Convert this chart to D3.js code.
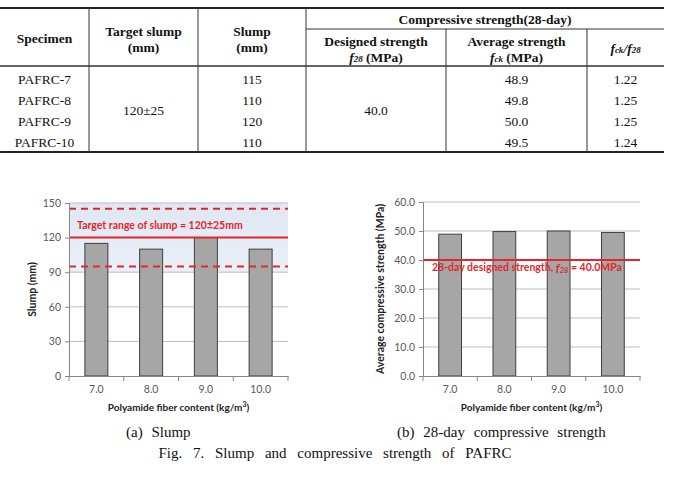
<!DOCTYPE html>
<html><head><meta charset="utf-8">
<script src="https://cdn.jsdelivr.net/npm/d3@7"></script>
<style>
html,body{margin:0;padding:0;background:#fff;}
svg{display:block;}
.tbl{font-family:"Liberation Serif","DejaVu Serif",serif;font-size:13.5px;fill:#111;}
.tblh{font-weight:bold;}
.ch{font-family:Lato,"Open Sans",sans-serif;}
.tick text{font-family:Lato,"Open Sans",sans-serif;font-size:10.5px;fill:#595959;}
.cap{font-family:"Liberation Serif","DejaVu Serif",serif;font-size:15px;fill:#111;word-spacing:5px;}
</style></head>
<body>
<svg id="c" width="674" height="477"></svg>
<script>
// ---------- data ----------
const specimens = ["PAFRC-7", "PAFRC-8", "PAFRC-9", "PAFRC-10"];
const fiberContent = ["7.0", "8.0", "9.0", "10.0"];
const slumpValues = [115, 110, 120, 110];
const strengthValues = [48.9, 49.8, 50.0, 49.5];
const strengthRatios = ["1.22", "1.25", "1.25", "1.24"];
const targetSlump = 120;
const slumpTolerance = 25;
const designStrength = 40.0;
const slumpTicks = [0, 30, 60, 90, 120, 150];
const strengthTicks = [0, 10, 20, 30, 40, 50, 60];

const svg = d3.select("#c");
const red = "#e4262c";

// ---------- table ----------
const T = svg.append("g");
const colX = [0, 89, 198, 306, 446, 587, 664];
const yTop = 8, yMid = 29, yHead = 66, yBot = 152;
const rowY = [79, 100, 121, 142];
T.append("line").attr("x1", 0).attr("x2", 664).attr("y1", yTop).attr("y2", yTop).attr("stroke", "#222").attr("stroke-width", 2.2);
T.append("line").attr("x1", 0).attr("x2", 664).attr("y1", yBot).attr("y2", yBot).attr("stroke", "#222").attr("stroke-width", 2.2);
T.append("line").attr("x1", 0).attr("x2", 664).attr("y1", yHead).attr("y2", yHead).attr("stroke", "#333").attr("stroke-width", 1.4);
T.append("line").attr("x1", colX[3]).attr("x2", 664).attr("y1", yMid).attr("y2", yMid).attr("stroke", "#333").attr("stroke-width", 1);
colX.slice(1, 6).forEach((x, i) => {
  const top = i >= 3 ? yMid : yTop;
  T.append("line").attr("x1", x).attr("x2", x).attr("y1", top).attr("y2", yBot).attr("stroke", "#333").attr("stroke-width", 1);
});
const cx = i => (colX[i] + colX[i + 1]) / 2;
function txt(x, y, s, bold) {
  return T.append("text").attr("class", "tbl" + (bold ? " tblh" : "")).attr("x", x).attr("y", y)
    .attr("text-anchor", "middle").attr("dominant-baseline", "central").text(s);
}
txt(cx(0), 38, "Specimen", true);
txt(cx(1), 31, "Target slump", true); txt(cx(1), 47, "(mm)", true);
txt(cx(2), 31, "Slump", true); txt(cx(2), 47, "(mm)", true);
txt((colX[3] + 664) / 2, 19, "Compressive strength(28-day)", true);
txt(cx(3), 41, "Designed strength", true);
let t = txt(cx(3), 57, "", true);
t.append("tspan").attr("font-style", "italic").text("f");
t.append("tspan").attr("font-style", "italic").attr("font-size", "9px").attr("dy", 2).text("28");
t.append("tspan").attr("dy", -2).text(" (MPa)");
txt(cx(4), 41, "Average strength", true);
t = txt(cx(4), 57, "", true);
t.append("tspan").attr("font-style", "italic").text("f");
t.append("tspan").attr("font-style", "italic").attr("font-size", "9px").attr("dy", 2).text("ck");
t.append("tspan").attr("dy", -2).text(" (MPa)");
t = txt(cx(5), 48, "", true);
t.append("tspan").attr("font-style", "italic").text("f");
t.append("tspan").attr("font-style", "italic").attr("font-size", "9px").attr("dy", 2).text("ck");
t.append("tspan").attr("font-style", "italic").attr("dy", -2).text("/f");
t.append("tspan").attr("font-style", "italic").attr("font-size", "9px").attr("dy", 2).text("28");

specimens.forEach((s, i) => {
  txt(cx(0), rowY[i], s);
  txt(cx(2), rowY[i], slumpValues[i]);
  txt(cx(4), rowY[i], d3.format(".1f")(strengthValues[i]));
  txt(cx(5), rowY[i], strengthRatios[i]);
});
txt(cx(1), 110, targetSlump + "±" + slumpTolerance);
txt(cx(3), 110, d3.format(".1f")(designStrength));

// ---------- generic chart helpers ----------
function boundaryTicks(g, x, y0) {
  const bounds = x.domain().map(d => x(d)).concat([x.range()[1]]);
  g.selectAll(null).data(bounds).join("line")
    .attr("x1", d => d).attr("x2", d => d).attr("y1", y0).attr("y2", y0 + 5)
    .attr("stroke", "#868686").attr("stroke-width", 1);
}
function drawChart(opts) {
  const { left, right, y0, yTopPx, domainMax, ticks, fmt, values, ylabel, ylabelX } = opts;
  const g = svg.append("g");
  const x = d3.scaleBand().domain(fiberContent).range([left, right]).padding(0);
  const y = d3.scaleLinear().domain([0, domainMax]).range([y0, yTopPx]);
  if (opts.band) opts.band(g, x, y);
  g.selectAll(null).data(ticks.slice(1)).join("line")
    .attr("x1", left).attr("x2", right).attr("y1", d => y(d)).attr("y2", d => y(d))
    .attr("stroke", "#bfbfbf").attr("stroke-width", 1);
  const bw = x.bandwidth() * 0.42;
  g.selectAll(null).data(values).join("rect")
    .attr("x", (d, i) => x(fiberContent[i]) + (x.bandwidth() - bw) / 2)
    .attr("y", d => y(d)).attr("width", bw).attr("height", d => y0 - y(d))
    .attr("fill", "#a6a6a6").attr("stroke", "#3f3f3f").attr("stroke-width", 1);
  if (opts.overlay) opts.overlay(g, x, y);
  const ya = g.append("g").attr("transform", `translate(${left},0)`)
    .call(d3.axisLeft(y).tickValues(ticks).tickFormat(fmt).tickSize(4).tickPadding(4));
  ya.select(".domain").attr("stroke", "#868686");
  ya.selectAll(".tick line").attr("stroke", "#868686");
  const xa = g.append("g").attr("transform", `translate(0,${y0})`)
    .call(d3.axisBottom(x).tickSize(0).tickPadding(10));
  xa.select(".domain").attr("stroke", "#868686");
  boundaryTicks(g, x, y0);
  const xt = g.append("text").attr("class", "ch").attr("x", (left + right) / 2).attr("y", 411)
    .attr("text-anchor", "middle").attr("font-size", "10px").attr("font-weight", "bold").attr("fill", "#222");
  xt.append("tspan").text("Polyamide fiber content (kg/m");
  xt.append("tspan").attr("font-size", "7px").attr("dy", -4).text("3");
  xt.append("tspan").attr("dy", 4).text(")");
  g.append("text").attr("class", "ch").attr("transform", `translate(${ylabelX},${(y0 + yTopPx) / 2}) rotate(-90)`)
    .attr("text-anchor", "middle").attr("font-size", "10.5px").attr("font-weight", "bold").attr("fill", "#222")
    .text(ylabel);
  return g;
}

// ---------- (a) slump ----------
drawChart({
  left: 69, right: 288, y0: 376, yTopPx: 203, domainMax: 150, ticks: slumpTicks,
  fmt: d3.format("d"), values: slumpValues, ylabel: "Slump (mm)", ylabelX: 36,
  band: (g, x, y) => {
    const grad = svg.append("defs").append("linearGradient").attr("id", "bandg").attr("x1", 0).attr("x2", 0).attr("y1", 0).attr("y2", 1);
    grad.append("stop").attr("offset", "0%").attr("stop-color", "#dfe7f3");
    grad.append("stop").attr("offset", "100%").attr("stop-color", "#eaf0f8");
    g.append("rect").attr("x", x.range()[0]).attr("width", x.range()[1] - x.range()[0])
      .attr("y", y(150)).attr("height", y(90) - y(150)).attr("fill", "url(#bandg)");
  },
  overlay: (g, x, y) => {
    const [l, r] = x.range();
    [targetSlump + slumpTolerance, targetSlump - slumpTolerance].forEach(v => {
      g.append("line").attr("x1", l).attr("x2", r).attr("y1", y(v)).attr("y2", y(v))
        .attr("stroke", red).attr("stroke-width", 2).attr("stroke-dasharray", "7,5");
    });
    g.append("line").attr("x1", l).attr("x2", r).attr("y1", y(targetSlump)).attr("y2", y(targetSlump))
      .attr("stroke", red).attr("stroke-width", 2);
    g.append("text").attr("class", "ch").attr("x", l + 8).attr("y", y(131)).attr("dominant-baseline", "central")
      .attr("font-size", "10.5px").attr("font-weight", "bold").attr("fill", red)
      .text("Target range of slump = " + targetSlump + "±" + slumpTolerance + "mm");
  }
});

// ---------- (b) compressive strength ----------
drawChart({
  left: 423, right: 640, y0: 376, yTopPx: 202, domainMax: 60, ticks: strengthTicks,
  fmt: d3.format(".1f"), values: strengthValues, ylabel: "Average compressive strength (MPa)", ylabelX: 384,
  overlay: (g, x, y) => {
    const [l, r] = x.range();
    g.append("line").attr("x1", l).attr("x2", r).attr("y1", y(designStrength)).attr("y2", y(designStrength))
      .attr("stroke", red).attr("stroke-width", 2);
    const tx = g.append("text").attr("class", "ch").attr("x", l + 9).attr("y", y(37.5)).attr("dominant-baseline", "central")
      .attr("font-size", "10.5px").attr("font-weight", "bold").attr("fill", red);
    tx.append("tspan").text("28-day designed strength, ");
    tx.append("tspan").attr("font-style", "italic").attr("font-size", "12px").text("f");
    tx.append("tspan").attr("font-style", "italic").attr("font-size", "7.5px").attr("dy", 3).text("28");
    tx.append("tspan").attr("dy", -3).text(" = " + d3.format(".1f")(designStrength) + "MPa");
  }
});

// ---------- captions ----------
svg.append("text").attr("class", "cap").attr("x", 126).attr("y", 437).text("(a) Slump");
svg.append("text").attr("class", "cap").attr("x", 397).attr("y", 437).text("(b) 28-day compressive strength");
svg.append("text").attr("class", "cap").attr("x", 335).attr("y", 458).attr("text-anchor", "middle")
  .style("word-spacing", "7px")
  .text("Fig. 7. Slump and compressive strength of PAFRC");
</script>
</body></html>
